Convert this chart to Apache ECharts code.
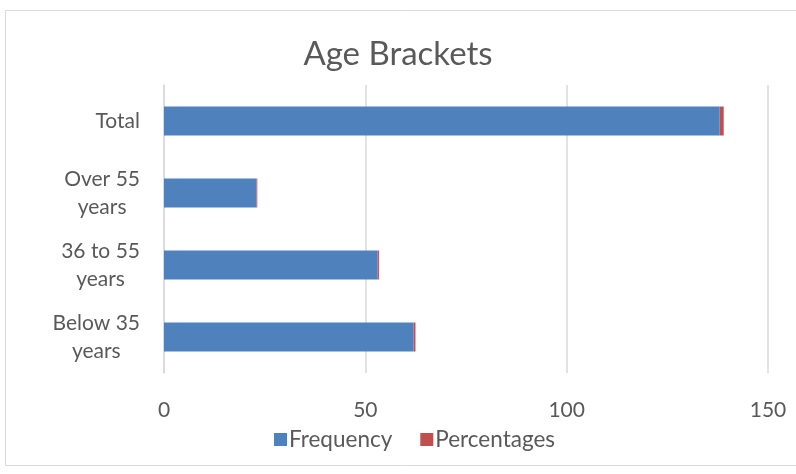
<!DOCTYPE html>
<html lang="en">
<head>
    <meta charset="UTF-8">
    <title>Age Brackets</title>
    <script src="https://cdn.jsdelivr.net/npm/echarts@6.0.0/dist/echarts.min.js"></script>
    <style>
        html, body { margin: 0; padding: 0; background: #fff; }
        #viz { width: 796px; height: 474px; }
    </style>
</head>
<body>
    <div id="viz"></div>
    <script>
        // bottom to top, as in the picture
        const categories = ['Below 35\nyears', '36 to 55\nyears', 'Over 55\nyears', 'Total'];
        const frequency = [62, 53, 23, 138];
        const percentages = [0.45, 0.38, 0.17, 1];
        const xTicks = { min: 0, max: 150, interval: 50 };

        const font = 'Lato, "Open Sans", sans-serif';
        const grey = '#595959';

        const chart = echarts.init(document.getElementById('viz'), null, { renderer: 'canvas' });

        // centre each line of a label inside its block, block sits right-aligned
        const centred = v => v.split('\n').map(s => '{c|' + s + '}').join('\n');

        const option = {
            animation: false,
            textStyle: { fontFamily: font },
            graphic: [{
                type: 'rect',
                shape: { x: 5.5, y: 10.5, width: 800, height: 455 },
                style: { fill: 'none', stroke: '#d9d9d9', lineWidth: 1 },
                silent: true
            }],
            title: {
                text: 'Age Brackets',
                left: 'center',
                top: 33,
                textStyle: { fontFamily: font, fontSize: 33, fontWeight: 'normal', color: grey }
            },
            legend: {
                bottom: 18,
                left: 269,
                itemWidth: 13,
                itemHeight: 13,
                itemGap: 28,
                icon: 'rect',
                textStyle: { fontFamily: font, fontSize: 22.5, color: grey, padding: [0, 0, 0, -3] },
                data: ['Frequency', 'Percentages']
            },
            grid: { left: 164, right: 28, top: 85, bottom: 101, containLabel: false },
            xAxis: {
                type: 'value',
                min: xTicks.min,
                max: xTicks.max,
                interval: xTicks.interval,
                axisLine: { show: false },
                axisTick: { show: false },
                axisLabel: { color: grey, fontSize: 21, margin: 27 },
                splitLine: { lineStyle: { color: '#d9d9d9', width: 1.5 } }
            },
            yAxis: {
                type: 'category',
                data: categories,
                axisLine: { lineStyle: { color: '#d9d9d9', width: 1.5 } },
                axisTick: { show: false },
                axisLabel: {
                    color: grey,
                    fontSize: 21,
                    lineHeight: 28,
                    margin: 24,
                    align: 'right',
                    formatter: centred,
                    rich: { c: { align: 'center', fontSize: 21, lineHeight: 28, color: grey, fontFamily: font } }
                }
            },
            series: [
                {
                    name: 'Frequency',
                    type: 'bar',
                    stack: 'a',
                    data: frequency,
                    barWidth: 29,
                    itemStyle: { color: '#4f81bd' }
                },
                {
                    name: 'Percentages',
                    type: 'bar',
                    stack: 'a',
                    data: percentages,
                    barWidth: 29,
                    itemStyle: { color: '#c0504d' }
                }
            ]
        };

        chart.setOption(option);
        window.onresize = () => chart.resize();
    </script>
</body>
</html>
